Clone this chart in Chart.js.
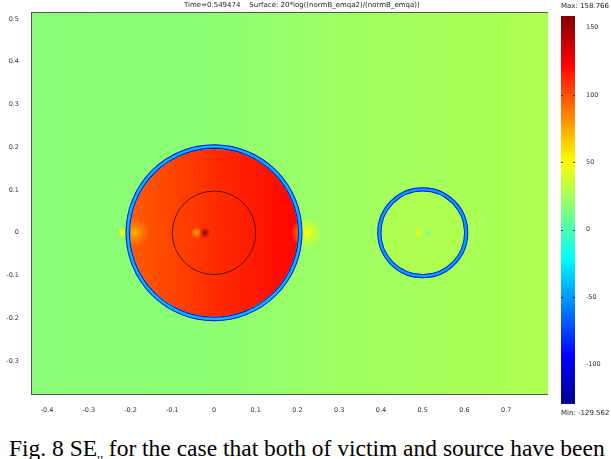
<!DOCTYPE html>
<html>
<head>
<meta charset="utf-8">
<script src="https://cdn.jsdelivr.net/npm/chart.js@4.4.1/dist/chart.umd.min.js"></script>
<style>
  body { margin: 0; background: #fff; width: 611px; height: 459px; overflow: hidden; position: relative; }
  #main { position: absolute; left: 0; top: 0; }
  #bar { position: absolute; left: 548px; top: 0; }
  .small { position: absolute; font: 7px "DejaVu Sans", sans-serif; color: #222; white-space: nowrap; }
  #caption { position: absolute; left: 9px; top: 435px; font: 23.5px "Liberation Serif", serif; color: #000; white-space: nowrap; }
  #caption sub { font-size: 8px; }
</style>
</head>
<body>
<canvas id="main" width="548" height="415"></canvas>
<canvas id="bar" width="63" height="420"></canvas>
<div class="small" style="left:184px; top:1px;">Time=0.549474&nbsp;&nbsp;&nbsp; Surface: 20*log((normB_emqa2)/(normB_emqa))</div>
<div class="small" style="left:561px; top:2px;">Max: 158.766</div>
<div class="small" style="left:561px; top:409px;">Min: -129.562</div>
<div id="caption">Fig. 8 SE<sub>H</sub> for the case that both of victim and source have been</div>
<script>
// axis ticks
const xTicks = [-0.4, -0.3, -0.2, -0.1, 0, 0.1, 0.2, 0.3, 0.4, 0.5, 0.6, 0.7];
const yTicks = [-0.3, -0.2, -0.1, 0, 0.1, 0.2, 0.3, 0.4, 0.5];
const cbTicks = [-100, -50, 0, 50, 100, 150];
const cbMin = -129.562;
const cbMax = 158.766;

// surface values (dB)
const bgX = [-0.44, 0, 0.3, 0.8];
const bgVal = [17, 18, 23, 28];
// shells: centre x, y, inner / outer radius (m)
const shellX = [0, 0.5];
const shellY = [0, 0];
const shellRin = [0.201, 0.099];
const shellRout = [0.212, 0.109];
const shellVal = [-40, -46];
// field inside the source shell, left -> right
const diskX = [-0.2, 0, 0.2];
const diskVal = [97, 110, 122];
// local spots: x, y, radius, value
const spotX = [-0.19, -0.22, 0.222, -0.042, -0.022, 0.49, 0.512];
const spotY = [0, 0, 0, 0, 0, 0, 0];
const spotR = [0.035, 0.014, 0.038, 0.014, 0.014, 0.012, 0.01];
const spotVal = [72, 50, 48, 70, 158, 46, 8];
const innerCircle = { x: 0, y: 0, r: 0.1 };

function jet(v, a) {
  const f = Math.max(0, Math.min(1, (v - cbMin) / (cbMax - cbMin)));
  const stops = [[0, 0, 0, 143], [0.125, 0, 0, 255], [0.375, 0, 255, 255], [0.625, 255, 255, 0], [0.875, 255, 0, 0], [1, 128, 0, 0]];
  let i = 0;
  while (i < stops.length - 2 && f > stops[i + 1][0]) i++;
  const s0 = stops[i], s1 = stops[i + 1];
  const t = (f - s0[0]) / (s1[0] - s0[0]);
  const c = [1, 2, 3].map(k => Math.round(s0[k] + (s1[k] - s0[k]) * t));
  return 'rgba(' + c.join(',') + ',' + (a === undefined ? 1 : a) + ')';
}

const fieldPlugin = {
  id: 'field',
  beforeDatasetsDraw(chart) {
    const { ctx, chartArea: ca, scales: { x, y } } = chart;
    const px = v => x.getPixelForValue(v);
    const py = v => y.getPixelForValue(v);
    const pr = r => px(r) - px(0);
    ctx.save();
    ctx.beginPath();
    ctx.rect(ca.left, ca.top, ca.width, ca.height);
    ctx.clip();
    // background
    const g = ctx.createLinearGradient(px(bgX[0]), 0, px(bgX[bgX.length - 1]), 0);
    bgX.forEach((bx, i) => g.addColorStop((bx - bgX[0]) / (bgX[bgX.length - 1] - bgX[0]), jet(bgVal[i])));
    ctx.fillStyle = g;
    ctx.fillRect(ca.left, ca.top, ca.width, ca.height);
    // source disk
    const dg = ctx.createLinearGradient(px(diskX[0]), 0, px(diskX[2]), 0);
    diskX.forEach((dx, i) => dg.addColorStop(i / 2, jet(diskVal[i])));
    ctx.fillStyle = dg;
    ctx.beginPath();
    ctx.arc(px(shellX[0]), py(shellY[0]), pr(shellRin[0]), 0, Math.PI * 2);
    ctx.fill();
    // victim interior
    ctx.fillStyle = jet(28);
    ctx.beginPath();
    ctx.arc(px(shellX[1]), py(shellY[1]), pr(shellRin[1]), 0, Math.PI * 2);
    ctx.fill();
    // spots
    spotX.forEach((sx, i) => {
      const cx = px(sx), cy = py(spotY[i]), r = pr(spotR[i]);
      const rg = ctx.createRadialGradient(cx, cy, 0, cx, cy, r);
      rg.addColorStop(0, jet(spotVal[i], 1));
      rg.addColorStop(0.35, jet(spotVal[i], 0.55));
      rg.addColorStop(1, jet(spotVal[i], 0));
      ctx.fillStyle = rg;
      ctx.beginPath();
      ctx.arc(cx, cy, r, 0, Math.PI * 2);
      ctx.fill();
    });
    // shells
    shellX.forEach((sx, i) => {
      const cx = px(sx), cy = py(shellY[i]);
      const rm = pr((shellRin[i] + shellRout[i]) / 2);
      const w = pr(shellRout[i] - shellRin[i]);
      ctx.beginPath();
      ctx.arc(cx, cy, rm, 0, Math.PI * 2);
      ctx.lineWidth = w;
      ctx.strokeStyle = jet(-100);
      ctx.stroke();
      ctx.lineWidth = w * 0.7;
      ctx.strokeStyle = jet(-70);
      ctx.stroke();
      ctx.lineWidth = w * 0.45;
      ctx.strokeStyle = jet(shellVal[i]);
      ctx.stroke();
    });
    // inner boundary line
    ctx.beginPath();
    ctx.arc(px(innerCircle.x), py(innerCircle.y), pr(innerCircle.r), 0, Math.PI * 2);
    ctx.lineWidth = 1;
    ctx.strokeStyle = 'rgba(60,20,10,0.85)';
    ctx.stroke();
    ctx.restore();
  },
  afterDraw(chart) {
    const { ctx, chartArea: ca } = chart;
    ctx.save();
    ctx.strokeStyle = '#555';
    ctx.lineWidth = 1;
    ctx.strokeRect(ca.left - 0.5, ca.top - 0.5, ca.width + 1, ca.height + 1);
    ctx.restore();
  }
};

const tickFont = { family: 'DejaVu Sans', size: 6.5 };
const fmt = v => String(+Number(v).toFixed(1));

new Chart(document.getElementById('main').getContext('2d'), {
  type: 'scatter',
  data: { datasets: [{ data: [], pointRadius: 0 }] },
  options: {
    responsive: false,
    animation: false,
    layout: { padding: { top: 13, right: 0, left: 0, bottom: 0 } },
    plugins: { legend: { display: false }, tooltip: { enabled: false } },
    scales: {
      x: {
        type: 'linear', min: -0.436, max: 0.8,
        afterBuildTicks: s => { s.ticks = xTicks.map(v => ({ value: v })); },
        afterFit: s => { s.height = 21; },
        grid: { display: false },
        border: { display: false },
        ticks: { font: tickFont, color: '#333', padding: 4, maxRotation: 0, autoSkip: false, callback: fmt }
      },
      y: {
        type: 'linear', min: -0.377, max: 0.514,
        afterBuildTicks: s => { s.ticks = yTicks.map(v => ({ value: v })); },
        afterFit: s => { s.width = 32; },
        grid: { display: false },
        border: { display: false },
        ticks: { font: tickFont, color: '#333', padding: 5, autoSkip: false, callback: fmt }
      }
    }
  },
  plugins: [fieldPlugin]
});

const cbMarks = {
  id: 'cbMarks',
  afterDatasetsDraw(chart) {
    const { ctx, chartArea: ca, scales: { y } } = chart;
    ctx.save();
    ctx.strokeStyle = 'rgba(40,40,40,0.8)';
    ctx.lineWidth = 1;
    cbTicks.forEach(v => {
      const py = Math.round(y.getPixelForValue(v)) + 0.5;
      ctx.beginPath();
      ctx.moveTo(ca.left, py); ctx.lineTo(ca.left + 2, py);
      ctx.moveTo(ca.right - 2, py); ctx.lineTo(ca.right, py);
      ctx.stroke();
    });
    ctx.restore();
  }
};

new Chart(document.getElementById('bar').getContext('2d'), {
  type: 'bar',
  data: {
    labels: [''],
    datasets: [{
      data: [[cbMin, cbMax]],
      barPercentage: 1,
      categoryPercentage: 1,
      borderWidth: 0,
      backgroundColor: ctx => {
        const ca = ctx.chart.chartArea;
        if (!ca) return '#888';
        const g = ctx.chart.ctx.createLinearGradient(0, ca.bottom, 0, ca.top);
        for (let i = 0; i <= 40; i++) g.addColorStop(i / 40, jet(cbMin + (cbMax - cbMin) * i / 40));
        return g;
      }
    }]
  },
  options: {
    responsive: false,
    animation: false,
    layout: { padding: { top: 16, left: 13, bottom: 16, right: 0 } },
    plugins: { legend: { display: false }, tooltip: { enabled: false } },
    scales: {
      x: { display: false },
      y: {
        position: 'right', min: cbMin, max: cbMax,
        afterBuildTicks: s => { s.ticks = cbTicks.map(v => ({ value: v })); },
        afterFit: s => { s.width = 36; },
        grid: { display: false },
        border: { display: false },
        ticks: { font: tickFont, color: '#333', padding: 3, autoSkip: false }
      }
    }
  },
  plugins: [cbMarks]
});
</script>
</body>
</html>
